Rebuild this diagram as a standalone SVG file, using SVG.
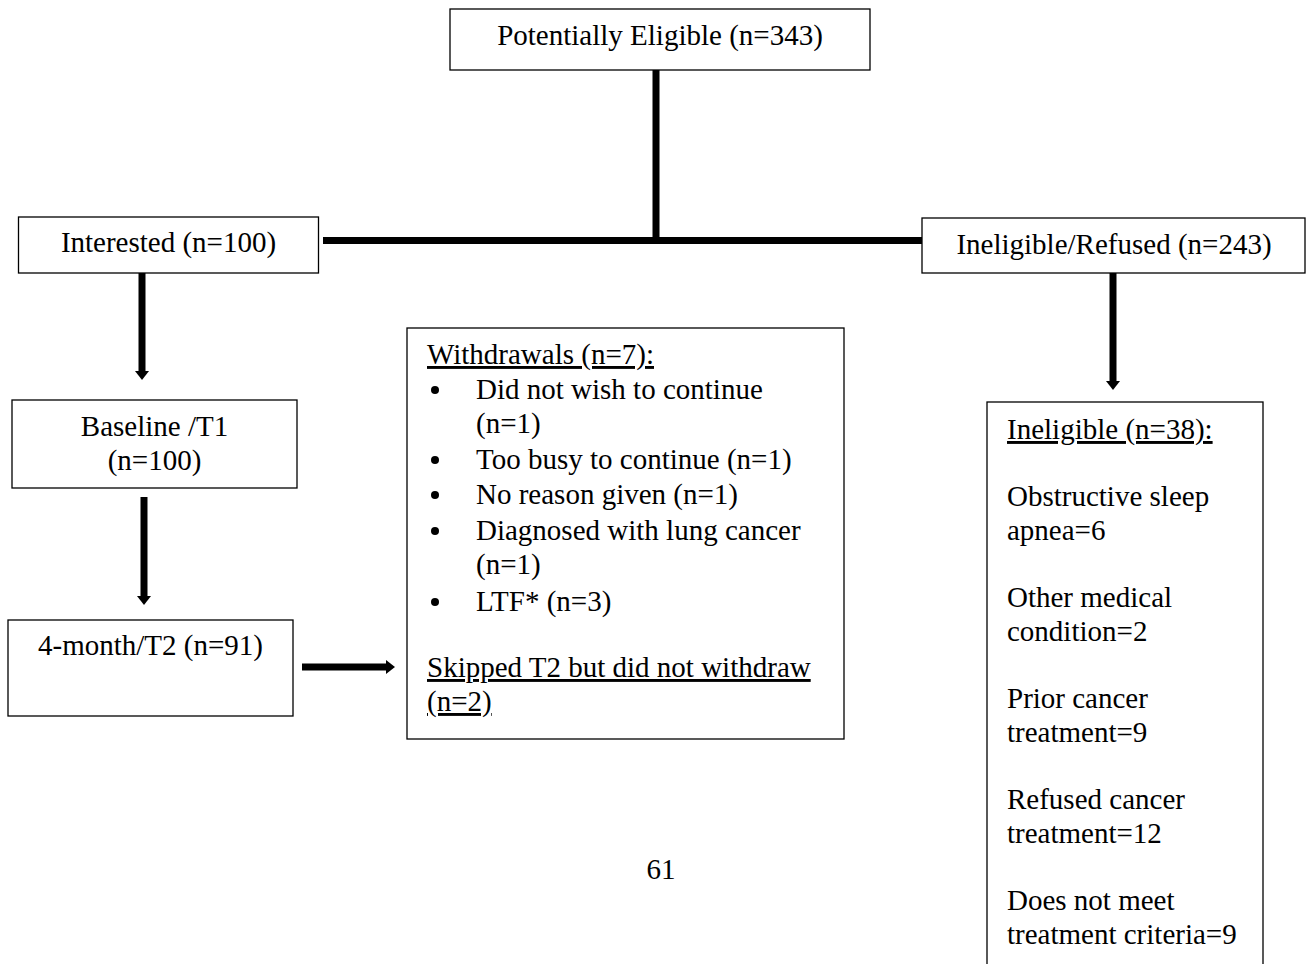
<svg xmlns="http://www.w3.org/2000/svg" width="1307" height="964" viewBox="0 0 1307 964">
<style>
  .box { fill: #fff; stroke: #000; stroke-width: 1.3; }
  text { font-family: "Liberation Serif", "Times New Roman", serif; font-size: 29px; fill: #000; }
  .c { text-anchor: middle; }
  .u { text-decoration: underline; }
  .conn { stroke: #000; stroke-width: 7; fill: none; }
</style>
<defs>
  <marker id="ah" markerUnits="userSpaceOnUse" viewBox="0 0 9 14" refX="0" refY="7" markerWidth="9" markerHeight="14" orient="auto">
    <path d="M0,0 L9,7 L0,14 z" fill="#000"/>
  </marker>
</defs>
<rect width="1307" height="964" fill="#fff"/>

<g id="connectors">
  <line class="conn" x1="656" y1="70" x2="656" y2="241"/>
  <line class="conn" x1="323" y1="240.5" x2="922" y2="240.5"/>
  <line class="conn" x1="142" y1="270" x2="142" y2="371" marker-end="url(#ah)"/>
  <line class="conn" x1="144" y1="497" x2="144" y2="596" marker-end="url(#ah)"/>
  <line class="conn" x1="302" y1="667" x2="386" y2="667" marker-end="url(#ah)"/>
  <line class="conn" x1="1113" y1="273" x2="1113" y2="381" marker-end="url(#ah)"/>
</g>

<g id="potentially-eligible">
  <rect class="box" x="450" y="9" width="420" height="61"/>
  <text class="c" x="660" y="45">Potentially Eligible (n=343)</text>
</g>

<g id="interested">
  <rect class="box" x="18.5" y="217" width="300" height="56"/>
  <text class="c" x="168.5" y="252">Interested (n=100)</text>
</g>

<g id="ineligible-refused">
  <rect class="box" x="922" y="218" width="383" height="55"/>
  <text class="c" x="1114" y="254">Ineligible/Refused (n=243)</text>
</g>

<g id="baseline">
  <rect class="box" x="12" y="400" width="285" height="88"/>
  <text class="c" x="154.5" y="436">Baseline /T1</text>
  <text class="c" x="154.5" y="470">(n=100)</text>
</g>

<g id="four-month">
  <rect class="box" x="8" y="620" width="285" height="96"/>
  <text class="c" x="150.5" y="655">4-month/T2 (n=91)</text>
</g>

<g id="withdrawals">
  <rect class="box" x="407" y="328" width="437" height="411"/>
  <text class="u" x="427" y="364">Withdrawals (n=7):</text>
  <circle cx="435" cy="390" r="4"/>
  <text x="476" y="399">Did not wish to continue</text>
  <text x="476" y="433">(n=1)</text>
  <circle cx="435" cy="460" r="4"/>
  <text x="476" y="469">Too busy to continue (n=1)</text>
  <circle cx="435" cy="495" r="4"/>
  <text x="476" y="504">No reason given (n=1)</text>
  <circle cx="435" cy="531" r="4"/>
  <text x="476" y="540">Diagnosed with lung cancer</text>
  <text x="476" y="574">(n=1)</text>
  <circle cx="435" cy="602" r="4"/>
  <text x="476" y="611">LTF* (n=3)</text>
  <text class="u" x="427" y="677">Skipped T2 but did not withdraw</text>
  <text class="u" x="427" y="711">(n=2)</text>
</g>

<g id="ineligible">
  <rect class="box" x="987" y="402" width="276" height="600"/>
  <text class="u" x="1007" y="439">Ineligible (n=38):</text>
  <text x="1007" y="506">Obstructive sleep</text>
  <text x="1007" y="540">apnea=6</text>
  <text x="1007" y="607">Other medical</text>
  <text x="1007" y="641">condition=2</text>
  <text x="1007" y="708">Prior cancer</text>
  <text x="1007" y="742">treatment=9</text>
  <text x="1007" y="809">Refused cancer</text>
  <text x="1007" y="843">treatment=12</text>
  <text x="1007" y="910">Does not meet</text>
  <text x="1007" y="944">treatment criteria=9</text>
</g>

<text class="c" x="661" y="879">61</text>
</svg>
